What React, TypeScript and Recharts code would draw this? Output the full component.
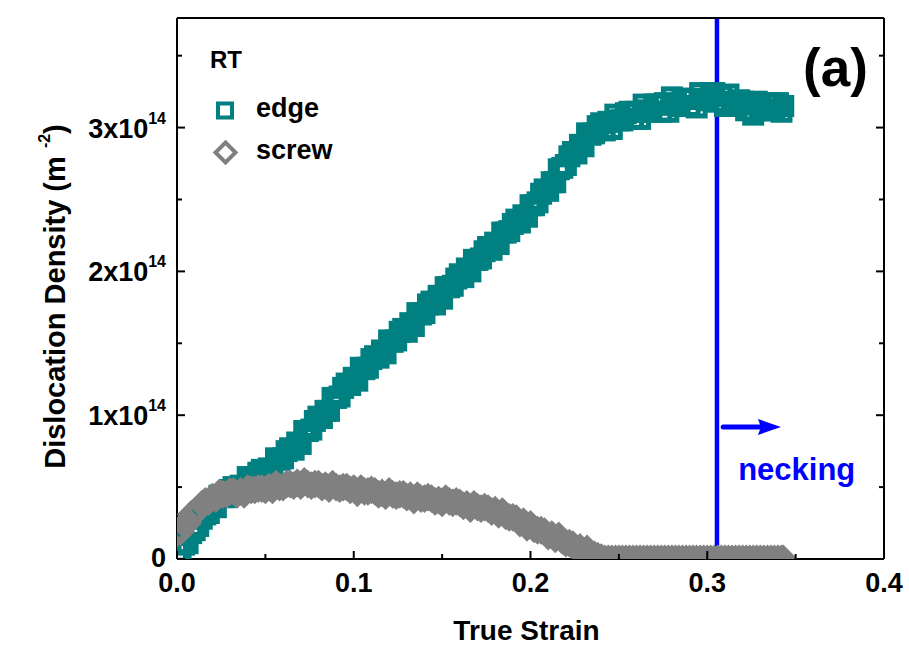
import React from "react";
import {
  ScatterChart,
  Scatter,
  XAxis,
  YAxis,
  ReferenceLine,
  Legend,
  Label,
} from "recharts";

const FONT = '"Liberation Sans", Arial, Helvetica, sans-serif';
const TEAL = "#008080";
const GRAY = "#808080";
const BLUE = "#0000ff";

// [true strain, dislocation density in 1e14 m^-2]
const edgePoints: [number, number][] = [
  [0.0, 0.05], [0.002, 0.05], [0.004, 0.1], [0.006, 0.11], [0.008, 0.18],
  [0.01, 0.2], [0.012, 0.23], [0.014, 0.28], [0.016, 0.31], [0.018, 0.32],
  [0.02, 0.37], [0.022, 0.36], [0.024, 0.44], [0.026, 0.43], [0.028, 0.43],
  [0.03, 0.48], [0.032, 0.5], [0.034, 0.47], [0.036, 0.51], [0.038, 0.49],
  [0.04, 0.57], [0.042, 0.55], [0.044, 0.55], [0.046, 0.6], [0.048, 0.62],
  [0.05, 0.59], [0.052, 0.63], [0.054, 0.62], [0.056, 0.7], [0.058, 0.69],
  [0.06, 0.7], [0.062, 0.75], [0.064, 0.77], [0.066, 0.76], [0.068, 0.81],
  [0.07, 0.8], [0.072, 0.89], [0.074, 0.89], [0.076, 0.9], [0.078, 0.96],
  [0.08, 0.99], [0.082, 0.98], [0.084, 1.03], [0.086, 1.03], [0.088, 1.12],
  [0.09, 1.12], [0.092, 1.13], [0.094, 1.19], [0.096, 1.22], [0.098, 1.21],
  [0.1, 1.26], [0.102, 1.24], [0.104, 1.33], [0.106, 1.32], [0.108, 1.33],
  [0.11, 1.39], [0.112, 1.41], [0.114, 1.4], [0.116, 1.45], [0.118, 1.43],
  [0.12, 1.52], [0.122, 1.51], [0.124, 1.52], [0.126, 1.58], [0.128, 1.6],
  [0.13, 1.58], [0.132, 1.64], [0.134, 1.62], [0.136, 1.71], [0.138, 1.7],
  [0.14, 1.71], [0.142, 1.77], [0.144, 1.79], [0.146, 1.77], [0.148, 1.83],
  [0.15, 1.81], [0.152, 1.89], [0.154, 1.89], [0.156, 1.9], [0.158, 1.95],
  [0.16, 1.98], [0.162, 1.96], [0.164, 2.02], [0.166, 2.0], [0.168, 2.08],
  [0.17, 2.08], [0.172, 2.09], [0.174, 2.14], [0.176, 2.17], [0.178, 2.15],
  [0.18, 2.2], [0.182, 2.19], [0.184, 2.27], [0.186, 2.27], [0.188, 2.28],
  [0.19, 2.33], [0.192, 2.36], [0.194, 2.34], [0.196, 2.39], [0.198, 2.38],
  [0.2, 2.46], [0.202, 2.46], [0.204, 2.48], [0.206, 2.54], [0.208, 2.57],
  [0.21, 2.56], [0.212, 2.62], [0.214, 2.62], [0.216, 2.71], [0.218, 2.72],
  [0.22, 2.74], [0.222, 2.8], [0.224, 2.83], [0.226, 2.82], [0.228, 2.88],
  [0.23, 2.87], [0.232, 2.96], [0.234, 2.95], [0.236, 2.96], [0.238, 3.01],
  [0.24, 3.03], [0.242, 2.98], [0.244, 3.04], [0.246, 2.99], [0.248, 3.09],
  [0.25, 3.05], [0.252, 3.05], [0.254, 3.1], [0.256, 3.11], [0.258, 3.06],
  [0.26, 3.11], [0.262, 3.06], [0.264, 3.16], [0.266, 3.12], [0.268, 3.11],
  [0.27, 3.16], [0.272, 3.16], [0.274, 3.11], [0.276, 3.17], [0.278, 3.11],
  [0.28, 3.21], [0.282, 3.16], [0.284, 3.15], [0.286, 3.2], [0.288, 3.2],
  [0.29, 3.15], [0.292, 3.2], [0.294, 3.14], [0.296, 3.24], [0.298, 3.2],
  [0.3, 3.19], [0.302, 3.24], [0.304, 3.24], [0.306, 3.18], [0.308, 3.22],
  [0.31, 3.15], [0.312, 3.23], [0.314, 3.17], [0.316, 3.15], [0.318, 3.19],
  [0.32, 3.18], [0.322, 3.12], [0.324, 3.16], [0.326, 3.09], [0.328, 3.18],
  [0.33, 3.13], [0.332, 3.12], [0.334, 3.17], [0.336, 3.17], [0.338, 3.12],
  [0.34, 3.17], [0.342, 3.11], [0.343, 3.15],
];

const screwPoints: [number, number][] = [
  [0.0, 0.18], [0.002, 0.19], [0.004, 0.24], [0.006, 0.25], [0.008, 0.31],
  [0.01, 0.32], [0.012, 0.34], [0.014, 0.38], [0.016, 0.4], [0.018, 0.4],
  [0.02, 0.43], [0.022, 0.42], [0.024, 0.46], [0.026, 0.45], [0.028, 0.45],
  [0.03, 0.47], [0.032, 0.47], [0.034, 0.45], [0.036, 0.47], [0.038, 0.45],
  [0.04, 0.49], [0.042, 0.48], [0.044, 0.48], [0.046, 0.49], [0.048, 0.49],
  [0.05, 0.48], [0.052, 0.5], [0.054, 0.48], [0.056, 0.52], [0.058, 0.5],
  [0.06, 0.5], [0.062, 0.52], [0.064, 0.52], [0.066, 0.51], [0.068, 0.53],
  [0.07, 0.51], [0.072, 0.54], [0.074, 0.52], [0.076, 0.51], [0.078, 0.52],
  [0.08, 0.52], [0.082, 0.5], [0.084, 0.51], [0.086, 0.49], [0.088, 0.52],
  [0.09, 0.5], [0.092, 0.49], [0.094, 0.5], [0.096, 0.5], [0.098, 0.48],
  [0.1, 0.49], [0.102, 0.46], [0.104, 0.49], [0.106, 0.47], [0.108, 0.47],
  [0.11, 0.48], [0.112, 0.47], [0.114, 0.45], [0.116, 0.46], [0.118, 0.44],
  [0.12, 0.47], [0.122, 0.45], [0.124, 0.44], [0.126, 0.45], [0.128, 0.45],
  [0.13, 0.43], [0.132, 0.44], [0.134, 0.41], [0.136, 0.44], [0.138, 0.42],
  [0.14, 0.42], [0.142, 0.43], [0.144, 0.42], [0.146, 0.4], [0.148, 0.41],
  [0.15, 0.39], [0.152, 0.42], [0.154, 0.4], [0.156, 0.39], [0.158, 0.4],
  [0.16, 0.39], [0.162, 0.37], [0.164, 0.38], [0.166, 0.35], [0.168, 0.38],
  [0.17, 0.36], [0.172, 0.35], [0.174, 0.36], [0.176, 0.35], [0.178, 0.33],
  [0.18, 0.34], [0.182, 0.31], [0.184, 0.33], [0.186, 0.3], [0.188, 0.29],
  [0.19, 0.29], [0.192, 0.28], [0.194, 0.25], [0.196, 0.26], [0.198, 0.22],
  [0.2, 0.24], [0.202, 0.21], [0.204, 0.2], [0.206, 0.2], [0.208, 0.19],
  [0.21, 0.16], [0.212, 0.17], [0.214, 0.14], [0.216, 0.16], [0.218, 0.13],
  [0.22, 0.11], [0.222, 0.11], [0.224, 0.1], [0.226, 0.07], [0.228, 0.08],
  [0.23, 0.05], [0.232, 0.07], [0.234, 0.04], [0.236, 0.03], [0.238, 0.02],
  [0.24, 0.01], [0.242, 0.0], [0.244, 0.0], [0.246, 0.0], [0.248, 0.0],
  [0.25, 0.0], [0.252, 0.0], [0.254, 0.0], [0.256, 0.0], [0.258, 0.0],
  [0.26, 0.0], [0.262, 0.0], [0.264, 0.0], [0.266, 0.0], [0.268, 0.0],
  [0.27, 0.0], [0.272, 0.0], [0.274, 0.0], [0.276, 0.0], [0.278, 0.0],
  [0.28, 0.0], [0.282, 0.0], [0.284, 0.0], [0.286, 0.0], [0.288, 0.0],
  [0.29, 0.0], [0.292, 0.0], [0.294, 0.0], [0.296, 0.0], [0.298, 0.0],
  [0.3, 0.0], [0.302, 0.0], [0.304, 0.0], [0.306, 0.0], [0.308, 0.0],
  [0.31, 0.0], [0.312, 0.0], [0.314, 0.0], [0.316, 0.0], [0.318, 0.0],
  [0.32, 0.0], [0.322, 0.0], [0.324, 0.0], [0.326, 0.0], [0.328, 0.0],
  [0.33, 0.0], [0.332, 0.0], [0.334, 0.0], [0.336, 0.0], [0.338, 0.0],
  [0.34, 0.0], [0.342, 0.0], [0.343, 0.0],
];

const seriesNames = ["edge", "screw"];
const legendTitle = "RT";
const panelTag = "(a)";

const xTicks = [0, 0.05, 0.1, 0.15, 0.2, 0.25, 0.3, 0.35, 0.4];
const xMajor = [0, 0.1, 0.2, 0.3, 0.4];
const xMajorLabels = ["0.0", "0.1", "0.2", "0.3", "0.4"];
const yTicks = [0, 0.5, 1, 1.5, 2, 2.5, 3, 3.5];
const yMajor = [0, 1, 2, 3];
const yMajorLabels = ["0", "1x10", "2x10", "3x10"];
const yExponent = "14";

const neckingStrain = 0.3055;
const arrowFrom = { x: 0.309, y: 0.918 };
const arrowTo = { x: 0.3417, y: 0.918 };

const X_DOMAIN: [number, number] = [0, 0.4];
const Y_DOMAIN: [number, number] = [0, 3.762];

const edgeData = edgePoints.map(([strain, rho]) => ({ strain, rho }));
const screwData = screwPoints.map(([strain, rho]) => ({ strain, rho }));

const majorIndex = (list: number[], v: number) =>
  list.findIndex((m) => Math.abs(m - v) < 1e-9);

function makeTick(side: "bottom" | "top" | "left" | "right") {
  return (props: any) => {
    const { x, y, payload } = props;
    const v = payload.value;
    const majors = side === "bottom" || side === "top" ? xMajor : yMajor;
    const idx = majorIndex(majors, v);
    const len = idx >= 0 ? 8 : 5;
    let line;
    if (side === "bottom") line = <line x1={x} y1={y} x2={x} y2={y - len} />;
    else if (side === "top") line = <line x1={x} y1={y} x2={x} y2={y + len} />;
    else if (side === "left") line = <line x1={x} y1={y} x2={x + len} y2={y} />;
    else line = <line x1={x} y1={y} x2={x - len} y2={y} />;

    let label = null;
    if (idx >= 0 && side === "bottom") {
      label = (
        <text x={x} y={y + 33} textAnchor="middle" fontSize={27} fontWeight="bold" fontFamily={FONT} fill="#000">
          {xMajorLabels[idx]}
        </text>
      );
    }
    if (idx >= 0 && side === "left") {
      label = (
        <text x={x - 11} y={y + (idx === 0 ? 8 : 10)} textAnchor="end" fontSize={27} fontWeight="bold" fontFamily={FONT} fill="#000">
          {yMajorLabels[idx]}
          {idx > 0 && (
            <tspan fontSize={16} dy={-14}>
              {yExponent}
            </tspan>
          )}
        </text>
      );
    }
    return (
      <g>
        <g stroke="#000" strokeWidth={2}>{line}</g>
        {label}
      </g>
    );
  };
}

const EdgeMarker = (props: any) => {
  const { cx, cy } = props;
  return (
    <rect x={cx - 8.5} y={cy - 8.5} width={17} height={17} fill="none" stroke={TEAL} strokeWidth={5} />
  );
};

const ScrewMarker = (props: any) => {
  const { cx, cy } = props;
  const h = 10.5;
  return (
    <path
      d={`M${cx} ${cy - h}L${cx + h} ${cy}L${cx} ${cy + h}L${cx - h} ${cy}Z`}
      fill="none"
      stroke={GRAY}
      strokeWidth={5.5}
    />
  );
};

const NeckingArrow = (props: any) => {
  const { x1, y1, x2 } = props;
  const head = 23;
  return (
    <g>
      <line x1={x1} y1={y1} x2={x2 - head + 3} y2={y1} stroke={BLUE} strokeWidth={5} strokeLinecap="round" />
      <path d={`M${x2} ${y1}L${x2 - head} ${y1 - 8}L${x2 - head + 3} ${y1}L${x2 - head} ${y1 + 8}Z`} fill={BLUE} />
      <text x={x1 + 15} y={y1 + 53} fill={BLUE} fontSize={31} fontWeight="bold" fontFamily={FONT}>
        necking
      </text>
    </g>
  );
};

function LegendBox() {
  return (
    <svg width={170} height={140} style={{ overflow: "visible", display: "block" }}>
      <g fontFamily={FONT} fontWeight="bold" fill="#000">
        <text x={10} y={28} fontSize={24}>{legendTitle}</text>
        <rect x={18} y={63.5} width={14} height={14} fill="none" stroke={TEAL} strokeWidth={4} />
        <text x={56} y={77} fontSize={27}>{seriesNames[0]}</text>
        <path d="M25.5 102.5L35.5 112.5L25.5 122.5L15.5 112.5Z" fill="none" stroke={GRAY} strokeWidth={4} />
        <text x={56} y={119} fontSize={27}>{seriesNames[1]}</text>
      </g>
    </svg>
  );
}

export default function App() {
  return (
    <div style={{ position: "absolute", left: 0, top: 0, width: 909, height: 648, background: "#fff" }}>
      <ScatterChart width={909} height={648} margin={{ top: 8, right: 15, bottom: 9, left: 27 }}>
        <XAxis
          xAxisId="b"
          dataKey="strain"
          type="number"
          domain={X_DOMAIN}
          allowDataOverflow
          ticks={xTicks}
          interval={0}
          height={80}
          tickSize={0}
          tickMargin={0}
          tickLine={false}
          axisLine={{ stroke: "#000", strokeWidth: 2 }}
          tick={makeTick("bottom")}
        >
          <Label
            content={(p: any) => {
              const vb = p.viewBox;
              return (
                <text x={vb.x + vb.width / 2 - 4} y={vb.y + 81} textAnchor="middle" fontSize={28} fontWeight="bold" fontFamily={FONT} fill="#000">
                  True Strain
                </text>
              );
            }}
          />
        </XAxis>
        <XAxis
          xAxisId="t"
          orientation="top"
          type="number"
          domain={X_DOMAIN}
          allowDataOverflow
          ticks={xTicks}
          interval={0}
          height={10}
          tickSize={0}
          tickMargin={0}
          tickLine={false}
          axisLine={{ stroke: "#000", strokeWidth: 2 }}
          tick={makeTick("top")}
        >
          <Label
            content={(p: any) => {
              const vb = p.viewBox;
              return (
                <text x={vb.x + vb.width - 81} y={vb.y + 78} fontSize={53} fontWeight="bold" fontFamily={FONT} fill="#000">
                  {panelTag}
                </text>
              );
            }}
          />
        </XAxis>
        <YAxis
          yAxisId="l"
          dataKey="rho"
          type="number"
          domain={Y_DOMAIN}
          allowDataOverflow
          ticks={yTicks}
          interval={0}
          width={150}
          tickSize={0}
          tickMargin={0}
          tickLine={false}
          axisLine={{ stroke: "#000", strokeWidth: 2 }}
          tick={makeTick("left")}
        >
          <Label
            content={(p: any) => {
              const vb = p.viewBox;
              const tx = vb.x + 38;
              const ty = vb.y + vb.height / 2 + 8;
              return (
                <text
                  x={tx}
                  y={ty}
                  transform={`rotate(-90, ${tx}, ${ty})`}
                  textAnchor="middle"
                  fontSize={29}
                  fontWeight="bold"
                  fontFamily={FONT}
                  fill="#000"
                >
                  Dislocation Density (m{" "}
                  <tspan fontSize={16} dy={-15}>-2</tspan>
                  <tspan dy={15}>)</tspan>
                </text>
              );
            }}
          />
        </YAxis>
        <YAxis
          yAxisId="r"
          orientation="right"
          type="number"
          domain={Y_DOMAIN}
          allowDataOverflow
          ticks={yTicks}
          interval={0}
          width={10}
          tickSize={0}
          tickMargin={0}
          tickLine={false}
          axisLine={{ stroke: "#000", strokeWidth: 2 }}
          tick={makeTick("right")}
        />
        <Legend
          layout="vertical"
          align="center"
          verticalAlign="middle"
          wrapperStyle={{ left: 200, top: 40, width: 170, height: 140 }}
          content={() => <LegendBox />}
        />
        <Scatter
          name={seriesNames[0]}
          data={edgeData}
          xAxisId="b"
          yAxisId="l"
          fill={TEAL}
          shape={(p: any) => <EdgeMarker {...p} />}
          isAnimationActive={false}
        />
        <Scatter
          name={seriesNames[1]}
          data={screwData}
          xAxisId="b"
          yAxisId="l"
          fill={GRAY}
          shape={(p: any) => <ScrewMarker {...p} />}
          isAnimationActive={false}
        />
        <ReferenceLine x={neckingStrain} xAxisId="b" yAxisId="l" stroke={BLUE} strokeWidth={4.5} />
        <ReferenceLine
          segment={[arrowFrom, arrowTo]}
          xAxisId="b"
          yAxisId="l"
          shape={(p: any) => <NeckingArrow {...p} />}
        />
      </ScatterChart>
    </div>
  );
}
